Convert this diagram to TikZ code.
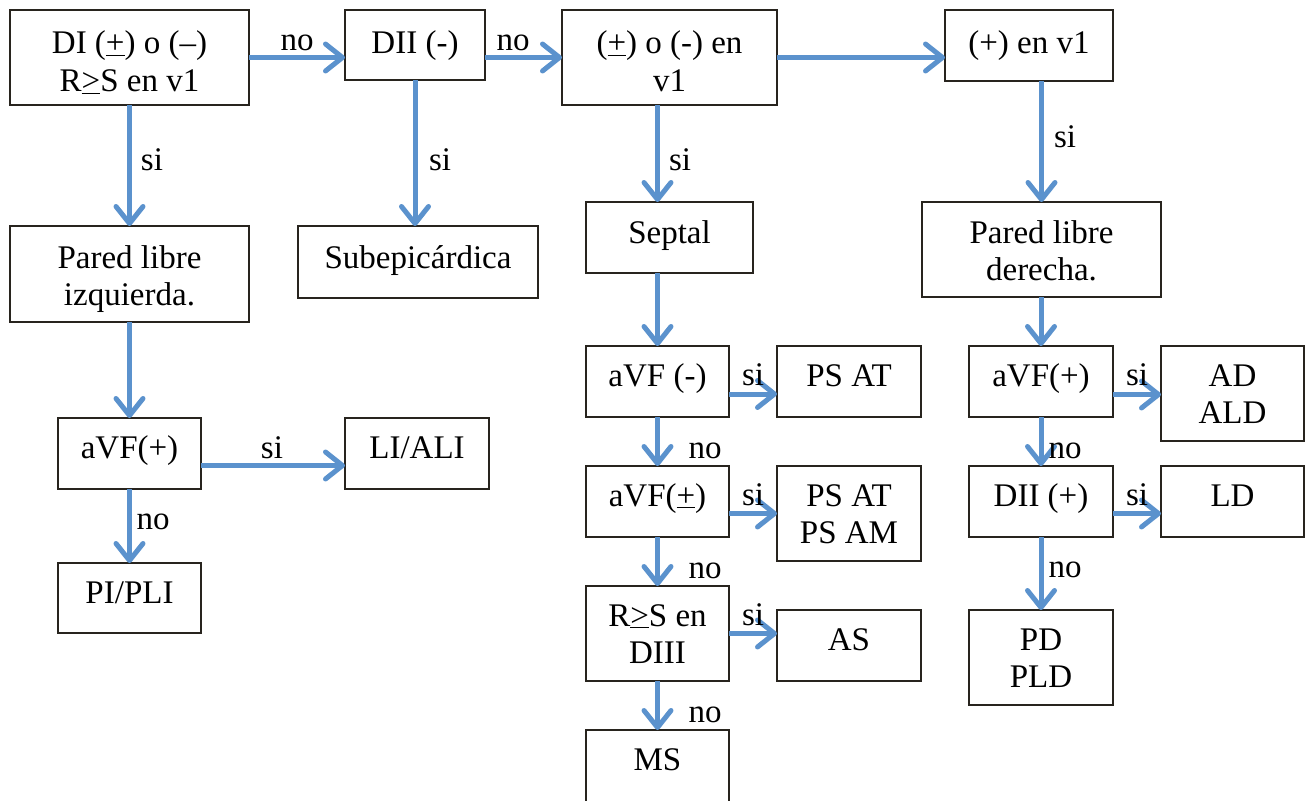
\documentclass[tikz,border=0pt]{standalone}
\usepackage{fontspec}
\setmainfont{Liberation Serif}
\usetikzlibrary{arrows.meta,calc}

\definecolor{arrowblue}{RGB}{91,146,205}
\definecolor{boxline}{RGB}{40,36,30}

\tikzset{
  box/.style={draw=boxline, line width=1.6pt, inner sep=0pt, outer sep=0pt,
              anchor=north west, font=\fontsize{33}{37.5}\selectfont},
  lbl/.style={anchor=base, inner sep=0pt, font=\fontsize{33}{37.5}\selectfont},
  arr/.style={draw=arrowblue, line width=5pt,
              -{Straight Barb[length=17pt,width=27pt,round]}},
}

% \flowbox[first baseline]{name}{left}{top}{right}{bottom}{text}: text hangs from the top edge
\newcommand{\flowbox}[7][40]{%
  \pgfmathsetmacro\bw{#5-#3}%
  \pgfmathsetmacro\bh{#6-#4}%
  \node[box] (#2) at (#3,#4)
    {\parbox[t][\bh pt][t]{\bw pt}{\centering\rule{0pt}{#1pt}#7}};%
}

\begin{document}
\begin{tikzpicture}[x=1pt,y=-1pt]
\useasboundingbox (0,0) rectangle (1305,800);

% top row
\flowbox[44]{di}{10}{10}{249}{105}{DI (\underline{+}) o (--)\\R\underline{>}S en v1}
\flowbox[44]{dii}{345}{10}{485}{80}{DII (-)}
\flowbox[44]{pmv}{562}{10}{777}{105}{(\underline{+}) o (-) en\\v1}
\flowbox[44]{pv}{945}{10}{1113}{81}{(+) en v1}

% second row
\flowbox[42]{pli}{10}{226}{249}{322}{Pared libre\\izquierda.}
\flowbox[42]{sub}{298}{226}{538}{298}{Subepicárdica}
\flowbox[41]{sep}{586}{202}{753}{273}{Septal}
\flowbox[41]{pld}{922}{202}{1161}{297}{Pared libre\\derecha.}

% left branch
\flowbox{avfl}{58}{418}{201}{489}{aVF(+)}
\flowbox{lia}{345}{418}{489}{489}{LI/ALI}
\flowbox{pipl}{58}{563}{201}{633}{PI/PLI}

% septal branch
\flowbox{avfm}{586}{346}{729}{417}{aVF (-)}
\flowbox{psat}{777}{346}{921}{417}{PS AT}
\flowbox{avfpm}{586}{466}{729}{537}{aVF(\underline{+})}
\flowbox{psam}{777}{466}{921}{561}{PS AT\\PS AM}
\flowbox{rsd}{586}{586}{729}{681}{R\underline{>}S en\\DIII}
\flowbox{as}{777}{610}{921}{681}{AS}
\flowbox{ms}{586}{730}{729}{815}{MS}

% right free wall branch
\flowbox{avfr}{969}{346}{1113}{417}{aVF(+)}
\flowbox{adald}{1161}{346}{1304}{441}{AD\\ALD}
\flowbox{diip}{969}{466}{1113}{537}{DII (+)}
\flowbox{ld}{1161}{466}{1304}{537}{LD}
\flowbox{pdpld}{969}{610}{1113}{705}{PD\\PLD}

% connectors
\draw[arr] (di.east) -- (di.east -| dii.west);
\draw[arr] (dii.east |- pmv.west) -- (pmv.west);
\draw[arr] (pmv.east) -- (pmv.east -| pv.west);

\draw[arr] (di.south) -- (pli.north);
\draw[arr] (dii.south) -- (dii.south |- sub.north);
\draw[arr] (pmv.south -| avfm.north) -- (sep.north -| avfm.north);
\draw[arr] (pv.south -| pld.north) -- (pld.north);

\draw[arr] (pli.south) -- (avfl.north);
\draw[arr] ([yshift=-12pt]avfl.east) -- ([yshift=-12pt]avfl.east -| lia.west);
\draw[arr] (avfl.south) -- (pipl.north);

\draw[arr] (sep.south -| avfm.north) -- (avfm.north);
\draw[arr] ([yshift=-12.5pt]avfm.east) -- ([yshift=-12.5pt]avfm.east -| psat.west);
\draw[arr] (avfm.south) -- (avfpm.north);
\draw[arr] ([yshift=-12pt]avfpm.east) -- ([yshift=-12pt]avfpm.east -| psam.west);
\draw[arr] (avfpm.south) -- (rsd.north);
\draw[arr] (rsd.east) -- (rsd.east -| as.west);
\draw[arr] (rsd.south) -- (ms.north);

\draw[arr] (pld.south -| avfr.north) -- (avfr.north);
\draw[arr] ([yshift=-13pt]avfr.east) -- ([yshift=-13pt]avfr.east -| adald.west);
\draw[arr] (avfr.south) -- (diip.north);
\draw[arr] ([yshift=-12pt]diip.east) -- ([yshift=-12pt]diip.east -| ld.west);
\draw[arr] (diip.south) -- (pdpld.north);

% branch labels
\node[lbl] (l1) at (297,51) {no};
\node[lbl] (l2) at (513,51) {no};
\node[lbl] (l3) at (152,170) {si};
\node[lbl] (l4) at (440,170) {si};
\node[lbl] (l5) at (680,170) {si};
\node[lbl] (l6) at (1065,147) {si};
\node[lbl] (l7) at (272,458) {si};
\node[lbl] (l8) at (153,529) {no};
\node[lbl] (l9) at (753,385) {si};
\node[lbl] (l10) at (705,458) {no};
\node[lbl] (l11) at (753,505) {si};
\node[lbl] (l12) at (705,578) {no};
\node[lbl] (l13) at (753,625) {si};
\node[lbl] (l14) at (705,722) {no};
\node[lbl] (l15) at (1137,385) {si};
\node[lbl] (l16) at (1065,458) {no};
\node[lbl] (l17) at (1137,505) {si};
\node[lbl] (l18) at (1065,577) {no};
\end{tikzpicture}
\end{document}
